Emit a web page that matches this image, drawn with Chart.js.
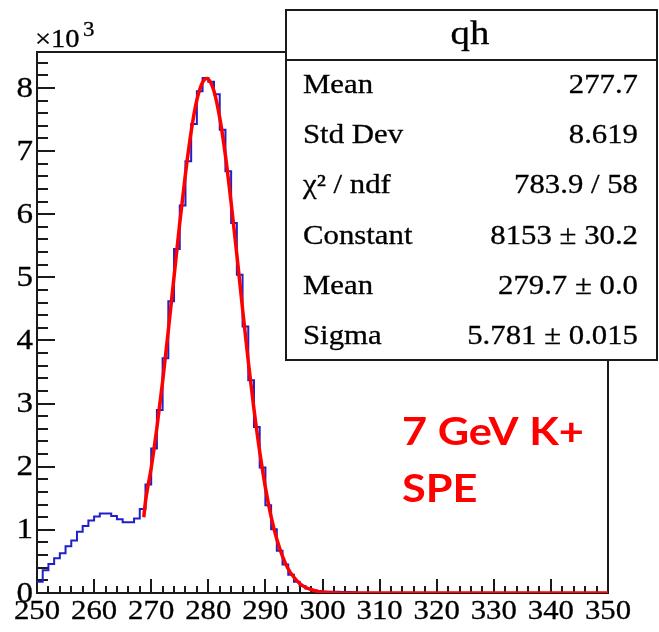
<!DOCTYPE html>
<html>
<head>
<meta charset="utf-8">
<script src="https://cdn.jsdelivr.net/npm/chart.js@4.4.1/dist/chart.umd.min.js"></script>
<style>
  html, body { margin: 0; padding: 0; background: #fff; }
  canvas { display: block; }
</style>
</head>
<body>
<canvas id="qh" width="659" height="632"></canvas>
<script>
// qh histogram, bins of width 1 from 250 to 350 (entries x10^3)
const binLow = 250;
const counts = [
  0.18, 0.36, 0.46, 0.55, 0.63, 0.74, 0.83, 0.97, 1.06, 1.15,
  1.21, 1.26, 1.26, 1.22, 1.17, 1.12, 1.12, 1.18, 1.33, 1.72,
  2.29, 2.90, 3.72, 4.62, 5.45, 6.14, 6.84, 7.43, 7.95, 8.16,
  8.10, 7.90, 7.34, 6.68, 5.86, 5.04, 4.22, 3.37, 2.63, 1.99,
  1.39, 1.01, 0.67, 0.45, 0.29, 0.18, 0.11, 0.07, 0.04, 0.03,
  0.02, 0.02, 0.02, 0.015, 0.015, 0.01, 0, 0, 0, 0,
  0, 0, 0, 0, 0, 0, 0, 0, 0, 0,
  0, 0, 0, 0, 0, 0, 0, 0, 0, 0,
  0, 0, 0, 0, 0, 0, 0, 0, 0, 0,
  0, 0, 0, 0, 0, 0, 0, 0, 0, 0
];

// gaus fit curve (red)
const fitX = [268.7, 269, 270, 271, 272, 273, 274, 275, 276, 277, 278, 279, 279.7, 280,
  281, 282, 283, 284, 285, 286, 287, 288, 289, 290, 291, 292, 293, 294, 295, 296,
  297, 298, 299, 300, 302, 305, 310, 350];
const fitY = [1.20, 1.45, 1.98, 2.62, 3.35, 4.16, 5.01, 5.86, 6.64, 7.31, 7.81, 8.09, 8.15, 8.14,
  7.95, 7.53, 6.93, 6.18, 5.36, 4.50, 3.67, 2.91, 2.24, 1.67, 1.21, 0.85, 0.58, 0.38, 0.25, 0.15,
  0.09, 0.055, 0.03, 0.017, 0.005, 0.001, 0, 0];

// axis labels
const xTickLabels = [250, 260, 270, 280, 290, 300, 310, 320, 330, 340, 350];
const yTickLabels = [0, 1, 2, 3, 4, 5, 6, 7, 8];

// stats box
const statNames = ['Mean', 'Std Dev', 'χ² / ndf', 'Constant', 'Mean', 'Sigma'];
const statValues = ['277.7', '8.619', '783.9 / 58', '8153 ± 30.2', '279.7 ± 0.0', '5.781 ± 0.015'];

const histPts = counts.map((v, i) => ({ x: binLow + i, y: v }));
histPts.push({ x: binLow + counts.length, y: 0 });
const fitPts = fitX.map((x, i) => ({ x: x, y: fitY[i] }));

const SERIF = '"Liberation Serif", "DejaVu Serif", serif';
const SX = 1.14; // reference text is a bit wide

function wideText(c, txt, x, y, align, sx, heavy) {
    c.save();
    c.translate(x, y);
    c.scale(sx, 1);
    c.textAlign = align;
    c.fillText(txt, 0, 0);
    if (heavy) {
        c.lineWidth = 0.3;
        c.strokeStyle = c.fillStyle;
        c.strokeText(txt, 0, 0);
    }
    c.restore();
}

// frame + ticks drawn behind the data, like ROOT
const framePlugin = {
    id: 'frame',
    beforeDatasetsDraw(chart) {
        const c = chart.ctx;
        const a = chart.chartArea;
        const xs = chart.scales.x, ys = chart.scales.y;
        c.save();
        c.strokeStyle = '#1a1a1a';
        c.lineWidth = 2;
        c.strokeRect(a.left, a.top, a.right - a.left, a.bottom - a.top);

        c.beginPath();
        for (let v = 250; v <= 350; v += 2) {
            const px = Math.round(xs.getPixelForValue(v));
            const len = (v % 10 === 0) ? 14 : 7;
            c.moveTo(px, a.bottom);
            c.lineTo(px, a.bottom - len);
        }
        for (let k = 0; k <= 42; k++) {
            const v = k / 5;
            const py = Math.round(ys.getPixelForValue(v));
            if (py < a.top) break;
            const len = (k % 5 === 0) ? 18 : 11;
            c.moveTo(a.left, py);
            c.lineTo(a.left + len, py);
        }
        c.stroke();
        c.restore();
    },
    afterDraw(chart) {
        const c = chart.ctx;
        const a = chart.chartArea;
        const xs = chart.scales.x, ys = chart.scales.y;
        c.save();
        c.fillStyle = '#000';
        c.textBaseline = 'alphabetic';

        // axis labels
        c.font = '27px ' + SERIF;
        xTickLabels.forEach(v => {
            wideText(c, String(v), xs.getPixelForValue(v), 619, 'center', SX, true);
        });
        c.font = '29px ' + SERIF;
        c.textBaseline = 'middle';
        yTickLabels.forEach(v => {
            wideText(c, String(v), a.left - 4, ys.getPixelForValue(v) + 1, 'right', SX, true);
        });
        c.textBaseline = 'alphabetic';
        c.font = '25px ' + SERIF;
        wideText(c, '×10', 35, 47, 'left', SX, true);
        c.font = '20px ' + SERIF;
        wideText(c, '3', 83, 36, 'left', SX, true);

        // stats box
        const bx = 286, by = 10, bw = 371, bh = 350;
        c.fillStyle = '#fff';
        c.fillRect(bx, by, bw, bh);
        c.strokeStyle = '#1a1a1a';
        c.lineWidth = 2;
        c.strokeRect(bx, by, bw, bh);
        c.beginPath();
        c.moveTo(bx, 60);
        c.lineTo(bx + bw, 60);
        c.stroke();

        c.fillStyle = '#000';
        c.font = '34px ' + SERIF;
        wideText(c, 'qh', 470, 44, 'center', SX, true);
        c.font = '27px ' + SERIF;
        statNames.forEach((name, i) => {
            const y = 93 + i * 50.2;
            wideText(c, name, 303, y, 'left', SX, true);
            wideText(c, statValues[i], 638, y, 'right', SX, true);
        });

        // annotation
        c.fillStyle = '#ff0000';
        c.font = 'bold 38px Lato, "Open Sans", sans-serif';
        wideText(c, '7 GeV K+', 402, 445, 'left', SX, false);
        wideText(c, 'SPE', 402, 502, 'left', SX, false);
        c.restore();
    }
};

const ctx = document.getElementById('qh').getContext('2d');
const chart = new Chart(ctx, {
    type: 'line',
    data: {
        datasets: [
            {
                label: 'gaus',
                data: fitPts,
                borderColor: '#ff0000',
                borderWidth: 3.5,
                pointRadius: 0,
                cubicInterpolationMode: 'monotone',
                fill: false,
                order: 1
            },
            {
                label: 'qh',
                data: histPts,
                stepped: true,
                borderColor: '#2020c8',
                borderWidth: 2,
                pointRadius: 0,
                fill: false,
                order: 2
            }
        ]
    },
    options: {
        responsive: false,
        animation: false,
        layout: { padding: { left: 37, right: 51, top: 52, bottom: 39 } },
        scales: {
            x: { type: 'linear', min: 250, max: 350, display: false },
            y: { type: 'linear', min: 0, max: 8.57, display: false }
        },
        plugins: {
            legend: { display: false },
            tooltip: { enabled: false }
        }
    },
    plugins: [framePlugin]
});
</script>
</body>
</html>
